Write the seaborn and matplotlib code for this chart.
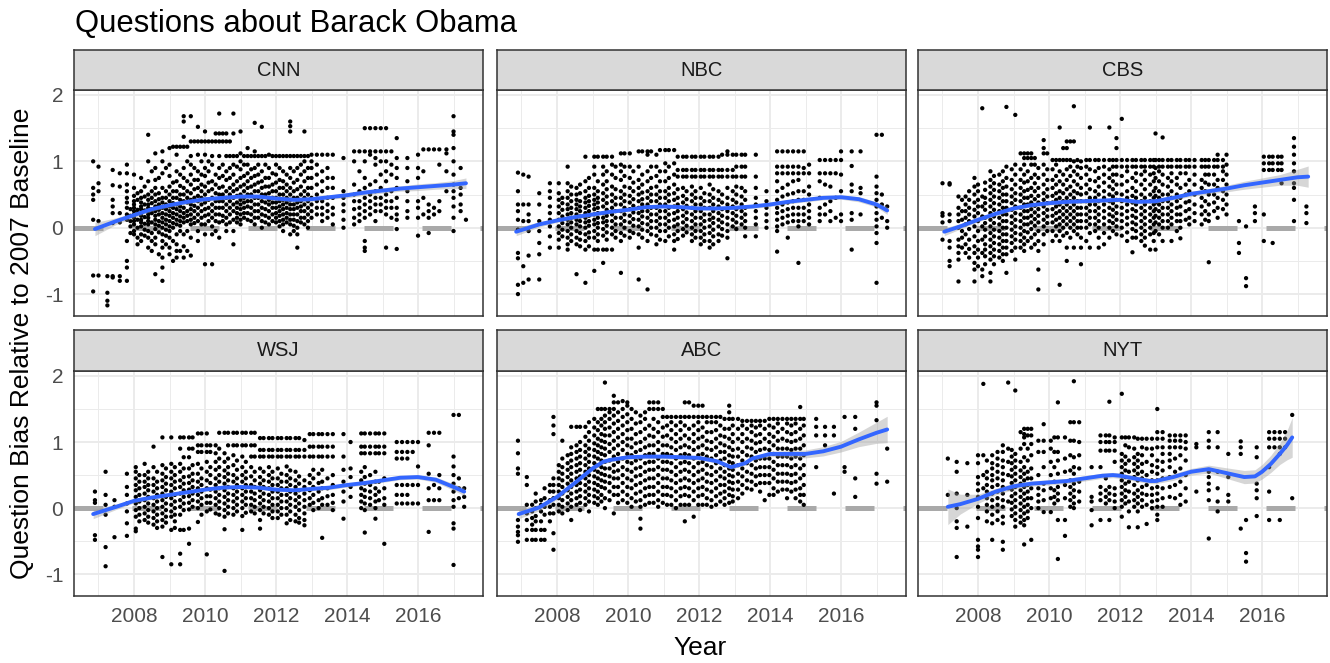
import matplotlib
matplotlib.use("Agg")
import matplotlib.pyplot as plt
import pandas as pd
import seaborn as sns

# panel order as drawn: top row then bottom row
OUTLETS = ["CNN", "NBC", "CBS", "WSJ", "ABC", "NYT"]

# scatter points: (year, [bias values])
CNN_COLUMNS = [
    (2006.85, [1.0, 0.6, 0.5, 0.42, 0.12, -0.72, -0.96]),
    (2007.0, [0.92, 0.67, 0.55, 0.1, -0.72]),
    (2007.25, [-1.1, -1.17, -0.98, -0.73]),
    (2007.4, [0.87, 0.64, 0.42, 0.32, 0.22, 0.07, -0.73, -0.75]),
    (2007.6, [0.82, 0.62, 0.22, 0.08, -0.73, -0.8]),
    (2007.8, [0.95, 0.82, 0.65, 0.55, 0.45, 0.38, 0.3, 0.2, 0.12, -0.2, -0.5, -0.6, -0.8]),
    (2008.0, [0.8, 0.6, 0.48, 0.4, 0.35, 0.3, 0.25, 0.2, 0.15, 0.1, 0.05, -0.05, -0.1]),
    (2008.2, [0.75, 0.55, 0.45, 0.38, 0.32, 0.28, 0.22, 0.18, 0.12, 0.08, 0.02, -0.1, -0.2]),
    (2008.4, [1.4, 1.0, 0.7, 0.5, 0.42, 0.35, 0.3, 0.25, 0.2, 0.15, 0.1, 0.05, -0.05, -0.15, -0.3]),
    (2008.6, [1.12, 0.9, 0.72, 0.6, 0.5, 0.4, 0.32, 0.25, 0.18, 0.12, 0.05, -0.02, -0.15, -0.25, -0.7]),
    (2008.8, [1.15, 1.0, 0.82, 0.6, 0.45, 0.38, 0.3, 0.22, 0.15, 0.08, 0.0, -0.1, -0.2, -0.3, -0.45, -0.6, -0.8]),
    (2009.0, [1.2, 0.95, 0.78, 0.62, 0.5, 0.4, 0.32, 0.25, 0.18, 0.1, 0.02, -0.05, -0.15, -0.3, -0.4]),
    (2009.2, [1.22, 1.1, 0.85, 0.7, 0.55, 0.45, 0.35, 0.28, 0.2, 0.12, 0.05, -0.1, -0.25, -0.35, -0.45]),
    (2009.4, [1.68, 1.6, 1.37, 1.22, 0.9, 0.75, 0.6, 0.5, 0.4, 0.3, 0.22, 0.15, 0.08, -0.1, -0.28, -0.45]),
    (2009.6, [1.68, 1.3, 1.08, 0.95, 0.8, 0.65, 0.52, 0.42, 0.35, 0.28, 0.2, 0.12, 0.05, -0.15, -0.42]),
    (2009.8, [1.52, 1.3, 1.1, 0.85, 0.72, 0.6, 0.48, 0.4, 0.3, 0.2, 0.1, -0.05, -0.2]),
    (2010.0, [1.45, 1.3, 1.1, 0.9, 0.78, 0.62, 0.5, 0.38, 0.28, 0.18, 0.05, -0.1, -0.55]),
    (2010.2, [1.3, 1.08, 0.95, 0.7, 0.58, 0.45, 0.35, 0.25, 0.15, 0.02, -0.1, -0.55]),
    (2010.4, [1.72, 1.42, 1.3, 1.08, 0.9, 0.75, 0.6, 0.5, 0.4, 0.3, 0.2, 0.08, -0.15]),
    (2010.6, [1.42, 1.3, 1.08, 0.85, 0.72, 0.55, 0.45, 0.35, 0.25, 0.15, 0.05, -0.05]),
    (2010.8, [1.72, 1.42, 1.08, 0.95, 0.8, 0.65, 0.55, 0.45, 0.35, 0.25, 0.12, -0.05, -0.25]),
    (2011.0, [1.45, 1.12, 1.0, 0.88, 0.75, 0.62, 0.5, 0.42, 0.35, 0.28, 0.2, 0.12, 0.05]),
    (2011.2, [1.2, 1.08, 0.95, 0.82, 0.7, 0.6, 0.5, 0.4, 0.32, 0.22, 0.12]),
    (2011.4, [1.58, 1.15, 1.08, 0.9, 0.78, 0.65, 0.55, 0.45, 0.35, 0.25, 0.15, 0.05]),
    (2011.6, [1.52, 1.08, 0.85, 0.7, 0.6, 0.5, 0.4, 0.3, 0.2, 0.1, 0.0]),
    (2011.8, [1.1, 0.9, 0.75, 0.62, 0.52, 0.42, 0.35, 0.25, 0.15, 0.05]),
    (2012.0, [1.08, 0.95, 0.8, 0.68, 0.55, 0.45, 0.38, 0.3, 0.22, 0.15, 0.08]),
    (2012.2, [1.08, 0.85, 0.7, 0.6, 0.5, 0.42, 0.35, 0.28, 0.2, 0.12, 0.05, -0.05]),
    (2012.4, [1.6, 1.53, 1.45, 1.08, 0.9, 0.75, 0.6, 0.5, 0.42, 0.35, 0.28, 0.2, 0.12, 0.05, -0.1]),
    (2012.6, [1.08, 0.9, 0.72, 0.58, 0.45, 0.38, 0.3, 0.2, 0.1, 0.0, -0.1, -0.3]),
    (2012.8, [1.45, 1.08, 1.0, 0.85, 0.7, 0.55, 0.45, 0.35, 0.25, 0.15, 0.05]),
    (2013.0, [1.1, 1.0, 0.9, 0.75, 0.6, 0.45, 0.35, 0.25, 0.15]),
    (2013.3, [1.1, 0.85, 0.7, 0.55, 0.4, 0.3, 0.2, 0.1]),
    (2013.6, [1.1, 0.75, 0.6, 0.45, 0.3, 0.2, 0.05]),
    (2013.9, [1.05, 0.55, 0.45, 0.35, 0.25, 0.12, 0.0]),
    (2014.2, [1.15, 1.0, 0.65, 0.5, 0.4, 0.28, 0.15, 0.05]),
    (2014.5, [1.5, 1.15, 1.0, 0.75, 0.6, 0.45, 0.35, 0.25, 0.15, -0.2, -0.3, -0.35]),
    (2014.8, [1.5, 1.15, 1.05, 0.95, 0.7, 0.55, 0.45, 0.35, 0.25, 0.1]),
    (2015.1, [1.5, 1.15, 1.0, 0.85, 0.7, 0.5, 0.4, 0.3, 0.2, -0.3]),
    (2015.4, [1.35, 1.05, 0.9, 0.75, 0.6, 0.45, 0.3, 0.2, 0.12, -0.02, -0.32]),
    (2015.7, [1.05, 0.9, 0.7, 0.55, 0.4, 0.25, 0.15]),
    (2016.0, [1.1, 0.9, 0.75, 0.4, 0.3, 0.15, -0.12]),
    (2016.3, [1.18, 0.35, 0.25, 0.15, -0.08]),
    (2016.6, [1.18, 0.95, 0.4, 0.25]),
    (2016.8, [1.18, 1.12, 0.85, 0.55]),
    (2017.0, [1.68, 1.45, 1.4, 1.2, 1.0, 0.8, 0.65, 0.55, 0.45, 0.32, 0.15, -0.05]),
    (2017.2, [0.9, 0.6, 0.5, 0.35, 0.25]),
    (2017.35, [0.12]),
]
# second pass over the dense parts of each panel
CNN_COLUMNS_B = [
    (2007.9, [0.28, 0.18, 0.1, 0.02, -0.08]),
    (2008.1, [0.52, 0.42, 0.27, 0.22, 0.12, 0.0, -0.15, -0.25]),
    (2008.3, [0.62, 0.47, 0.35, 0.26, 0.16, 0.06, -0.03, -0.12]),
    (2008.5, [0.85, 0.55, 0.45, 0.37, 0.28, 0.22, 0.08, -0.08, -0.2, -0.35]),
    (2008.7, [0.75, 0.52, 0.43, 0.35, 0.27, 0.2, 0.1, 0.03, -0.07, -0.4]),
    (2008.9, [0.9, 0.55, 0.45, 0.35, 0.28, 0.2, 0.12, 0.05, -0.03, -0.12, -0.25]),
    (2009.1, [1.22, 0.68, 0.55, 0.45, 0.37, 0.3, 0.22, 0.15, 0.07, 0.0, -0.2, -0.5]),
    (2009.3, [1.22, 0.8, 0.63, 0.5, 0.42, 0.32, 0.25, 0.17, 0.1, 0.03, -0.05, -0.35]),
    (2009.5, [1.22, 1.0, 0.7, 0.55, 0.45, 0.38, 0.25, 0.18, 0.1, -0.05, -0.35]),
    (2009.7, [1.3, 0.9, 0.72, 0.58, 0.45, 0.33, 0.25, 0.15, 0.07]),
    (2009.9, [1.3, 1.0, 0.8, 0.65, 0.55, 0.45, 0.35, 0.25, 0.15, 0.05]),
    (2010.1, [1.3, 1.0, 0.85, 0.68, 0.55, 0.42, 0.3, 0.2, 0.1]),
    (2010.3, [1.3, 1.42, 0.8, 0.65, 0.52, 0.4, 0.3, 0.2, 0.1, -0.05]),
    (2010.5, [1.3, 1.42, 0.95, 0.78, 0.62, 0.5, 0.4, 0.3, 0.18, 0.1]),
    (2010.7, [1.3, 1.08, 0.9, 0.75, 0.6, 0.5, 0.4, 0.3, 0.2, 0.08]),
    (2010.9, [1.08, 0.92, 0.7, 0.58, 0.48, 0.38, 0.3, 0.22, 0.15, 0.08]),
    (2011.1, [1.08, 0.95, 0.78, 0.65, 0.55, 0.45, 0.38, 0.3, 0.22, 0.15]),
    (2011.3, [1.08, 0.88, 0.75, 0.62, 0.5, 0.4, 0.3, 0.2, 0.1]),
    (2011.5, [1.08, 0.95, 0.8, 0.68, 0.55, 0.45, 0.35, 0.25, 0.15]),
    (2011.7, [1.08, 0.95, 0.75, 0.62, 0.5, 0.38, 0.28, 0.18, 0.08]),
    (2011.9, [1.08, 0.82, 0.65, 0.55, 0.45, 0.38, 0.3, 0.2, 0.1]),
    (2012.1, [1.08, 0.9, 0.72, 0.6, 0.5, 0.4, 0.32, 0.25, 0.18, 0.1, 0.02]),
    (2012.3, [1.08, 0.8, 0.65, 0.55, 0.45, 0.38, 0.3, 0.22, 0.15, 0.08]),
    (2012.5, [1.08, 0.85, 0.68, 0.55, 0.45, 0.35, 0.28, 0.2, 0.12, 0.03, -0.05]),
    (2012.7, [1.08, 0.95, 0.8, 0.62, 0.5, 0.4, 0.32, 0.25, 0.15, 0.08]),
    (2012.9, [1.08, 0.9, 0.75, 0.6, 0.5, 0.4, 0.3, 0.2, 0.1, 0.0]),
    (2013.15, [1.1, 0.95, 0.8, 0.65, 0.5, 0.4, 0.3, 0.2]),
    (2013.45, [1.1, 0.9, 0.75, 0.6, 0.45, 0.35, 0.25, 0.15]),
    (2014.35, [1.15, 0.85, 0.55, 0.4, 0.3, 0.2, 0.1]),
    (2014.65, [1.5, 1.15, 1.1, 0.65, 0.5, 0.4, 0.3, 0.2]),
    (2014.95, [1.5, 1.15, 1.0, 0.8, 0.6, 0.45, 0.35, 0.25]),
    (2015.25, [1.15, 0.95, 0.8, 0.55, 0.4, 0.3, 0.15]),
    (2016.15, [1.18, 0.85, 0.45, 0.2]),
    (2016.45, [1.18, 0.3, 0.2]),
]

NBC_COLUMNS = [
    (2006.9, [0.83, 0.55, 0.35, 0.25, 0.12, -0.03, -0.38, -0.46, -0.86, -1.0]),
    (2007.05, [0.8, 0.35, 0.1, -0.58, -0.83]),
    (2007.2, [0.77, 0.35, 0.2, 0.1, -0.05, -0.42, -0.78]),
    (2007.5, [0.52, 0.35, 0.1, -0.05, -0.23, -0.4, -0.78]),
    (2007.8, [0.67, 0.55, 0.45, 0.32, 0.22, 0.12, 0.02, -0.13, -0.3]),
    (2008.05, [0.67, 0.52, 0.42, 0.32, 0.22, 0.12, 0.02, -0.08, -0.18, -0.3]),
    (2008.3, [0.92, 0.67, 0.55, 0.45, 0.35, 0.28, 0.2, 0.12, 0.05, -0.05, -0.15, -0.25, -0.33]),
    (2008.55, [0.6, 0.5, 0.42, 0.35, 0.28, 0.2, 0.12, 0.05, -0.05, -0.15, -0.25, -0.7]),
    (2008.8, [1.07, 0.7, 0.55, 0.45, 0.38, 0.3, 0.22, 0.15, 0.08, 0.0, -0.1, -0.2, -0.33, -0.83]),
    (2009.05, [1.07, 0.92, 0.8, 0.6, 0.5, 0.42, 0.35, 0.28, 0.2, 0.12, 0.05, -0.05, -0.15, -0.33, -0.65]),
    (2009.3, [1.07, 0.92, 0.8, 0.65, 0.52, 0.42, 0.32, 0.22, 0.15, 0.08, -0.02, -0.12, -0.33, -0.53]),
    (2009.55, [1.07, 0.95, 0.8, 0.62, 0.5, 0.4, 0.3, 0.2, 0.1, 0.0, -0.1, -0.33]),
    (2009.8, [1.12, 0.95, 0.85, 0.72, 0.55, 0.45, 0.35, 0.25, 0.15, 0.05, -0.08, -0.2, -0.68]),
    (2010.05, [1.12, 0.92, 0.75, 0.6, 0.48, 0.38, 0.28, 0.18, 0.08, -0.05, -0.15]),
    (2010.3, [1.15, 0.92, 0.72, 0.6, 0.5, 0.4, 0.3, 0.22, 0.12, 0.02, -0.1, -0.3, -0.78]),
    (2010.55, [1.15, 1.1, 0.85, 0.7, 0.55, 0.45, 0.35, 0.25, 0.15, 0.05, -0.05, -0.2, -0.93]),
    (2010.8, [1.1, 0.92, 0.78, 0.62, 0.5, 0.4, 0.3, 0.2, 0.1, 0.0, -0.12, -0.25]),
    (2011.05, [1.17, 0.97, 0.85, 0.7, 0.55, 0.45, 0.35, 0.25, 0.15, 0.05, -0.05, -0.2]),
    (2011.3, [1.17, 0.97, 0.8, 0.65, 0.52, 0.42, 0.32, 0.22, 0.12, 0.02, -0.1, -0.2, -0.33]),
    (2011.55, [1.07, 0.87, 0.77, 0.6, 0.48, 0.38, 0.28, 0.18, 0.08, -0.02, -0.12]),
    (2011.8, [1.07, 0.87, 0.77, 0.62, 0.5, 0.4, 0.3, 0.2, 0.1, 0.0, -0.1, -0.2]),
    (2012.05, [1.07, 0.87, 0.77, 0.6, 0.45, 0.35, 0.25, 0.15, 0.05, -0.05, -0.15, -0.25]),
    (2012.3, [1.07, 0.87, 0.77, 0.65, 0.5, 0.4, 0.3, 0.2, 0.12, 0.02, -0.08, -0.2, -0.3]),
    (2012.55, [1.07, 0.87, 0.77, 0.55, 0.42, 0.32, 0.22, 0.12, 0.02, -0.1, -0.2]),
    (2012.8, [1.15, 1.1, 0.87, 0.77, 0.6, 0.45, 0.35, 0.25, 0.15, 0.05, -0.05, -0.15, -0.46]),
    (2013.05, [1.1, 0.92, 0.77, 0.62, 0.5, 0.38, 0.28, 0.18, 0.08, -0.02]),
    (2013.3, [1.1, 0.92, 0.77, 0.55, 0.42, 0.3, 0.2, 0.1, 0.0, -0.13]),
    (2013.6, [1.1, 0.77, 0.6, 0.45, 0.35, 0.25, 0.15, 0.05, -0.13]),
    (2013.9, [0.55, 0.4, 0.3, 0.2, 0.1, 0.0]),
    (2014.2, [1.15, 0.92, 0.82, 0.7, 0.55, 0.42, 0.3, 0.22, 0.12, 0.02, -0.05, -0.36]),
    (2014.5, [1.15, 0.92, 0.82, 0.65, 0.5, 0.38, 0.28, 0.18, 0.08, -0.15]),
    (2014.8, [1.15, 0.92, 0.82, 0.72, 0.55, 0.42, 0.3, 0.2, 0.1, 0.02, -0.53]),
    (2015.1, [0.95, 0.82, 0.62, 0.5, 0.35, 0.25, 0.15, 0.05]),
    (2015.4, [1.02, 0.82, 0.7, 0.45, 0.3, 0.2, 0.1]),
    (2015.7, [1.02, 0.82, 0.62, 0.4, 0.25, 0.1]),
    (2016.0, [1.15, 1.02, 0.8, 0.55, 0.2, 0.1]),
    (2016.3, [1.15, 0.93, 0.65, 0.55, 0.22, 0.12, -0.33]),
    (2016.55, [1.15, 0.6, 0.52, 0.2]),
    (2017.0, [1.4, 0.77, 0.62, 0.52, 0.42, 0.32, 0.22, 0.12, 0.02, -0.08, -0.23, -0.83]),
    (2017.15, [1.4, 0.5, 0.35, 0.15]),
    (2017.3, [0.32, 0.1, 0.0]),
]
NBC_COLUMNS_B = [
    (2008.15, [0.45, 0.37, 0.27, 0.17, 0.07, -0.03, -0.13]),
    (2008.4, [0.62, 0.5, 0.4, 0.3, 0.22, 0.15, 0.08, 0.0, -0.1, -0.2]),
    (2008.65, [0.65, 0.52, 0.4, 0.32, 0.25, 0.17, 0.1, 0.02, -0.08, -0.18, -0.28]),
    (2008.9, [0.75, 0.6, 0.48, 0.4, 0.33, 0.25, 0.18, 0.1, 0.03, -0.07, -0.15, -0.28]),
    (2009.15, [1.07, 0.7, 0.55, 0.45, 0.38, 0.3, 0.22, 0.15, 0.07, 0.0, -0.1, -0.2, -0.33]),
    (2009.4, [1.07, 0.85, 0.7, 0.58, 0.47, 0.37, 0.27, 0.18, 0.1, 0.03, -0.07, -0.18, -0.33]),
    (2009.65, [0.92, 0.75, 0.58, 0.45, 0.35, 0.25, 0.15, 0.05, -0.05, -0.15]),
    (2009.9, [1.12, 0.92, 0.78, 0.62, 0.5, 0.4, 0.3, 0.2, 0.1, 0.0, -0.12]),
    (2010.15, [0.85, 0.68, 0.55, 0.43, 0.33, 0.23, 0.13, 0.03, -0.08]),
    (2010.4, [1.15, 0.8, 0.65, 0.53, 0.43, 0.35, 0.25, 0.17, 0.07, -0.03, -0.15]),
    (2010.65, [1.15, 0.92, 0.75, 0.6, 0.5, 0.4, 0.3, 0.2, 0.1, 0.0, -0.1]),
    (2010.9, [1.17, 0.85, 0.7, 0.55, 0.45, 0.35, 0.25, 0.15, 0.05, -0.05, -0.18]),
    (2011.15, [1.17, 0.92, 0.75, 0.6, 0.5, 0.4, 0.3, 0.2, 0.1, 0.0, -0.13]),
    (2011.4, [1.07, 0.87, 0.77, 0.58, 0.45, 0.35, 0.25, 0.15, 0.05, -0.05, -0.17]),
    (2011.65, [1.07, 0.87, 0.77, 0.55, 0.43, 0.33, 0.23, 0.13, 0.03, -0.07]),
    (2011.9, [1.07, 0.87, 0.77, 0.55, 0.45, 0.35, 0.25, 0.15, 0.05, -0.05, -0.15]),
    (2012.15, [1.07, 0.87, 0.77, 0.52, 0.4, 0.3, 0.2, 0.1, 0.0, -0.1, -0.2]),
    (2012.4, [1.07, 0.87, 0.77, 0.58, 0.45, 0.35, 0.25, 0.15, 0.07, -0.03, -0.13, -0.25]),
    (2012.65, [1.1, 0.87, 0.77, 0.5, 0.38, 0.28, 0.18, 0.08, -0.02, -0.12]),
    (2012.95, [1.1, 0.87, 0.77, 0.55, 0.42, 0.32, 0.22, 0.12, 0.02]),
    (2013.2, [1.1, 0.92, 0.77, 0.6, 0.47, 0.35, 0.25, 0.15, 0.05]),
    (2014.35, [1.15, 0.92, 0.82, 0.6, 0.47, 0.35, 0.25, 0.15, 0.05]),
    (2014.65, [1.15, 0.92, 0.82, 0.7, 0.52, 0.4, 0.3, 0.2, 0.1]),
    (2014.95, [1.15, 0.9, 0.82, 0.55, 0.42, 0.3, 0.2, 0.1]),
    (2015.55, [1.02, 0.82, 0.65, 0.35, 0.2]),
    (2015.85, [1.02, 0.82, 0.45, 0.15]),
]

CBS_COLUMNS = [
    (2007.0, [0.67, 0.22, 0.18, 0.08, -0.18]),
    (2007.2, [0.67, 0.65, 0.2, 0.1, -0.2, -0.3, -0.5, -0.58]),
    (2007.45, [0.47, 0.3, 0.2, 0.1, 0.0, -0.18, -0.28, -0.38, -0.48, -0.81]),
    (2007.65, [0.47, 0.35, 0.25, 0.15, 0.05, -0.1, -0.25, -0.38]),
    (2007.9, [0.75, 0.62, 0.5, 0.38, 0.27, 0.17, 0.02, -0.13, -0.28, -0.38, -0.53, -0.63, -0.81]),
    (2008.12, [1.8, 0.47, 0.32, 0.17, 0.02, -0.18, -0.38, -0.63, -0.73]),
    (2008.35, [0.85, 0.72, 0.62, 0.52, 0.42, 0.32, 0.22, 0.12, 0.02, -0.08, -0.18, -0.28, -0.38, -0.48, -0.68, -0.81]),
    (2008.6, [0.8, 0.65, 0.55, 0.45, 0.35, 0.25, 0.15, 0.05, -0.05, -0.15, -0.25, -0.35, -0.45]),
    (2008.8, [1.82, 0.92, 0.75, 0.62, 0.5, 0.4, 0.3, 0.2, 0.1, 0.0, -0.1, -0.2, -0.3, -0.4, -0.68]),
    (2009.05, [1.7, 0.95, 0.8, 0.65, 0.52, 0.42, 0.32, 0.22, 0.12, 0.02, -0.08, -0.18, -0.3, -0.48]),
    (2009.3, [1.12, 1.05, 0.95, 0.8, 0.68, 0.55, 0.45, 0.35, 0.25, 0.15, 0.05, -0.05, -0.15, -0.25, -0.35]),
    (2009.5, [1.12, 1.05, 0.95, 0.75, 0.6, 0.48, 0.38, 0.28, 0.18, 0.08, -0.02, -0.15, -0.3]),
    (2009.7, [0.9, 0.75, 0.6, 0.48, 0.38, 0.28, 0.18, 0.08, -0.05, -0.2, -0.35, -0.63, -0.93]),
    (2009.85, [1.32, 1.2, 1.12, 0.95, 0.8, 0.65, 0.52, 0.42, 0.32, 0.22, 0.12, 0.02, -0.1, -0.25]),
    (2010.1, [1.02, 0.88, 0.72, 0.6, 0.48, 0.38, 0.28, 0.18, 0.08, -0.05, -0.2]),
    (2010.3, [1.51, 1.02, 0.85, 0.7, 0.55, 0.45, 0.35, 0.25, 0.15, 0.05, -0.05, -0.2, -0.86]),
    (2010.5, [1.3, 1.2, 1.02, 0.88, 0.72, 0.58, 0.45, 0.35, 0.25, 0.15, 0.05, -0.08, -0.3, -0.5]),
    (2010.7, [1.83, 1.3, 1.0, 0.85, 0.7, 0.55, 0.45, 0.35, 0.25, 0.15, 0.05, -0.05, -0.3]),
    (2010.9, [1.0, 0.9, 0.75, 0.6, 0.5, 0.4, 0.3, 0.2, 0.1, 0.0, -0.15, -0.3, -0.55]),
    (2011.15, [1.51, 1.02, 0.88, 0.72, 0.58, 0.45, 0.35, 0.25, 0.15, 0.05, -0.08, -0.3]),
    (2011.4, [1.02, 0.9, 0.75, 0.62, 0.5, 0.4, 0.3, 0.2, 0.1, 0.0, -0.15, -0.3]),
    (2011.7, [1.51, 1.02, 0.88, 0.75, 0.62, 0.5, 0.4, 0.3, 0.2, 0.1, 0.0, -0.15]),
    (2011.9, [1.35, 1.2, 1.02, 0.92, 0.8, 0.65, 0.52, 0.42, 0.32, 0.22, 0.12, 0.02, -0.1]),
    (2012.05, [1.64, 1.02, 0.92, 0.78, 0.65, 0.5, 0.4, 0.3, 0.2, 0.1, 0.0, -0.12]),
    (2012.35, [1.02, 0.92, 0.75, 0.6, 0.48, 0.38, 0.28, 0.18, 0.08, -0.02, -0.15, -0.37]),
    (2012.6, [1.02, 0.92, 0.8, 0.65, 0.5, 0.4, 0.3, 0.2, 0.1, 0.0, -0.1, -0.2]),
    (2012.85, [1.02, 0.92, 0.8, 0.65, 0.5, 0.4, 0.3, 0.2, 0.1, 0.0, -0.1, -0.33]),
    (2013.0, [1.42, 1.02, 0.9, 0.75, 0.6, 0.48, 0.38, 0.28, 0.18, 0.08, -0.05, -0.33]),
    (2013.2, [1.36, 1.02, 0.92, 0.8, 0.65, 0.5, 0.4, 0.3, 0.2, 0.1, 0.0, -0.2]),
    (2013.45, [1.02, 0.92, 0.82, 0.7, 0.55, 0.45, 0.35, 0.25, 0.15, 0.05, -0.2]),
    (2013.7, [1.02, 0.92, 0.82, 0.6, 0.45, 0.32, 0.2, 0.1, 0.0, -0.16]),
    (2013.95, [1.02, 0.92, 0.72, 0.55, 0.4, 0.28, 0.15, 0.05]),
    (2014.3, [1.02, 0.92, 0.72, 0.6, 0.45, 0.32, 0.2, 0.05]),
    (2014.5, [1.02, 0.92, 0.8, 0.65, 0.5, 0.35, 0.2, 0.1, -0.52]),
    (2014.75, [1.1, 1.02, 0.92, 0.72, 0.6, 0.45, 0.3, 0.15]),
    (2015.0, [1.1, 0.95, 0.8, 0.65, 0.5, 0.35, 0.2]),
    (2015.35, [0.1, -0.23, -0.38]),
    (2015.55, [0.02, -0.76, -0.88]),
    (2015.8, [0.32, 0.22, 0.1]),
    (2016.05, [1.07, 0.97, 0.87, 0.2, -0.2]),
    (2016.3, [1.07, 0.97, 0.87, -0.23]),
    (2016.55, [1.07, 0.97, 0.87, 0.67]),
    (2016.9, [1.35, 1.22, 1.1, 0.97, 0.85, 0.67, 0.6, 0.42, 0.1]),
    (2017.25, [0.32, 0.22, 0.07]),
]
CBS_COLUMNS_B = [
    (2007.55, [0.42, 0.25, 0.12, -0.05, -0.15, -0.3]),
    (2007.75, [0.55, 0.42, 0.3, 0.2, 0.1, -0.02, -0.18, -0.32, -0.45]),
    (2008.0, [0.65, 0.55, 0.42, 0.32, 0.22, 0.1, -0.05, -0.2, -0.33, -0.45, -0.58]),
    (2008.2, [0.68, 0.57, 0.45, 0.37, 0.27, 0.15, 0.07, -0.03, -0.13, -0.25, -0.33, -0.43, -0.55]),
    (2008.45, [0.78, 0.67, 0.57, 0.47, 0.37, 0.27, 0.17, 0.07, -0.03, -0.13, -0.23, -0.33, -0.43, -0.55]),
    (2008.7, [0.85, 0.7, 0.6, 0.5, 0.4, 0.3, 0.2, 0.1, 0.0, -0.1, -0.2, -0.3, -0.4, -0.5]),
    (2008.95, [0.88, 0.72, 0.58, 0.47, 0.37, 0.27, 0.17, 0.07, -0.03, -0.13, -0.23, -0.35]),
    (2009.2, [1.12, 0.88, 0.72, 0.6, 0.5, 0.4, 0.3, 0.2, 0.1, 0.0, -0.1, -0.2, -0.3]),
    (2009.4, [1.12, 1.05, 0.85, 0.7, 0.57, 0.45, 0.35, 0.25, 0.15, 0.05, -0.07, -0.2]),
    (2009.6, [1.05, 0.95, 0.8, 0.67, 0.55, 0.43, 0.33, 0.23, 0.13, 0.03, -0.1, -0.25]),
    (2009.95, [1.12, 0.88, 0.72, 0.58, 0.47, 0.37, 0.27, 0.17, 0.07, -0.05]),
    (2010.2, [1.02, 0.95, 0.78, 0.65, 0.52, 0.42, 0.32, 0.22, 0.12, 0.02, -0.12]),
    (2010.4, [1.2, 1.02, 0.8, 0.65, 0.52, 0.4, 0.3, 0.2, 0.1, 0.0, -0.12]),
    (2010.6, [1.3, 1.02, 0.92, 0.78, 0.62, 0.5, 0.4, 0.3, 0.2, 0.1, 0.0, -0.15]),
    (2010.8, [1.02, 0.92, 0.8, 0.65, 0.52, 0.4, 0.3, 0.2, 0.1, 0.0, -0.1]),
    (2011.05, [1.02, 0.92, 0.8, 0.65, 0.52, 0.4, 0.3, 0.2, 0.1, 0.0, -0.2]),
    (2011.3, [1.02, 0.85, 0.7, 0.55, 0.45, 0.35, 0.25, 0.15, 0.05, -0.05]),
    (2011.55, [1.02, 0.92, 0.8, 0.68, 0.55, 0.45, 0.35, 0.25, 0.15, 0.05, -0.08, -0.25]),
    (2011.8, [1.02, 0.92, 0.8, 0.7, 0.58, 0.47, 0.37, 0.27, 0.17, 0.07, -0.05]),
    (2012.2, [1.02, 0.92, 0.85, 0.7, 0.55, 0.45, 0.35, 0.25, 0.15, 0.05, -0.07, -0.2]),
    (2012.45, [1.02, 0.92, 0.82, 0.7, 0.55, 0.45, 0.35, 0.25, 0.15, 0.05, -0.05, -0.15]),
    (2012.7, [1.02, 0.92, 0.85, 0.72, 0.58, 0.45, 0.35, 0.25, 0.15, 0.05, -0.05, -0.15, -0.27]),
    (2012.95, [1.02, 0.92, 0.82, 0.7, 0.55, 0.45, 0.35, 0.25, 0.15, 0.05, -0.08, -0.2]),
    (2013.1, [1.02, 0.92, 0.85, 0.7, 0.55, 0.45, 0.35, 0.25, 0.15, 0.05, -0.1]),
    (2013.35, [1.02, 0.92, 0.75, 0.62, 0.5, 0.4, 0.3, 0.2, 0.1, 0.0]),
    (2013.6, [1.02, 0.92, 0.75, 0.65, 0.5, 0.4, 0.3, 0.2, 0.1, -0.05]),
    (2013.85, [1.02, 0.92, 0.82, 0.65, 0.5, 0.38, 0.25, 0.12]),
    (2014.1, [1.02, 0.92, 0.8, 0.65, 0.5, 0.35, 0.22, 0.1]),
    (2014.4, [1.02, 0.92, 0.8, 0.68, 0.55, 0.4, 0.25, 0.12]),
    (2014.65, [1.02, 0.92, 0.8, 0.65, 0.5, 0.38, 0.25]),
    (2014.9, [1.02, 0.92, 0.85, 0.72, 0.55, 0.42, 0.28]),
    (2016.2, [1.07, 0.97, 0.87]),
    (2016.45, [1.07, 0.97, 0.87]),
]

WSJ_COLUMNS = [
    (2006.9, [0.25, 0.12, 0.08, -0.41, -0.48]),
    (2007.2, [0.55, 0.2, 0.05, -0.1, -0.59, -0.88]),
    (2007.45, [0.12, 0.02, -0.44]),
    (2007.8, [0.52, 0.32, 0.2, 0.07, -0.05, -0.23, -0.42]),
    (2008.05, [0.62, 0.55, 0.45, 0.35, 0.27, 0.17, 0.07, -0.03, -0.13, -0.31, -0.35]),
    (2008.3, [0.67, 0.5, 0.4, 0.32, 0.22, 0.12, 0.02, -0.08, -0.18]),
    (2008.55, [0.93, 0.62, 0.45, 0.35, 0.25, 0.15, 0.05, -0.05, -0.15, -0.25]),
    (2008.8, [1.07, 0.65, 0.52, 0.42, 0.32, 0.22, 0.12, 0.02, -0.08, -0.18, -0.28, -0.74]),
    (2009.05, [1.07, 0.67, 0.55, 0.45, 0.35, 0.25, 0.15, 0.05, -0.05, -0.13, -0.33, -0.85]),
    (2009.3, [1.07, 0.9, 0.67, 0.55, 0.42, 0.32, 0.22, 0.12, 0.02, -0.1, -0.33, -0.69, -0.85]),
    (2009.55, [1.07, 0.9, 0.77, 0.6, 0.48, 0.38, 0.28, 0.18, 0.08, -0.02, -0.31, -0.54]),
    (2009.8, [1.13, 0.95, 0.85, 0.67, 0.52, 0.4, 0.3, 0.2, 0.1, 0.0, -0.21]),
    (2010.05, [1.13, 0.95, 0.85, 0.7, 0.55, 0.42, 0.3, 0.18, 0.08, -0.05, -0.7]),
    (2010.3, [0.95, 0.83, 0.7, 0.58, 0.45, 0.35, 0.25, 0.15, 0.05, -0.08]),
    (2010.55, [1.14, 0.83, 0.7, 0.57, 0.47, 0.37, 0.27, 0.17, 0.07, -0.03, -0.13, -0.32, -0.95]),
    (2010.8, [1.14, 0.95, 0.8, 0.65, 0.5, 0.4, 0.3, 0.2, 0.1, 0.0, -0.1]),
    (2011.05, [1.14, 0.95, 0.78, 0.62, 0.5, 0.4, 0.3, 0.2, 0.1, 0.0, -0.12, -0.33]),
    (2011.3, [1.14, 0.95, 0.78, 0.62, 0.48, 0.35, 0.25, 0.15, 0.05, -0.05]),
    (2011.55, [1.06, 0.88, 0.78, 0.6, 0.47, 0.37, 0.27, 0.17, 0.07, -0.03, -0.18, -0.31]),
    (2011.8, [1.06, 0.88, 0.78, 0.62, 0.5, 0.4, 0.3, 0.2, 0.1, 0.0, -0.1]),
    (2012.05, [1.06, 0.88, 0.78, 0.6, 0.45, 0.35, 0.25, 0.15, 0.05, -0.05, -0.15]),
    (2012.3, [1.06, 0.88, 0.78, 0.63, 0.5, 0.4, 0.3, 0.2, 0.1, 0.0, -0.1, -0.23]),
    (2012.55, [1.06, 0.88, 0.78, 0.55, 0.42, 0.32, 0.22, 0.12, 0.02, -0.1, -0.2]),
    (2012.8, [1.03, 0.88, 0.78, 0.42, 0.32, 0.22, 0.12, 0.02, -0.08, -0.18, -0.26]),
    (2013.05, [1.12, 0.93, 0.78, 0.58, 0.45, 0.32, 0.2, 0.08, -0.03]),
    (2013.3, [1.12, 0.93, 0.78, 0.58, 0.4, 0.3, 0.15, 0.05, -0.45]),
    (2013.6, [1.12, 0.93, 0.78, 0.5, 0.35, 0.2, 0.08, -0.03]),
    (2013.9, [1.12, 0.78, 0.58, 0.4, 0.25, 0.1, -0.16]),
    (2014.1, [1.0, 0.6, 0.47, 0.32, 0.17]),
    (2014.5, [1.13, 0.93, 0.83, 0.62, 0.47, 0.37, 0.27, 0.17, 0.07, -0.03, -0.37]),
    (2014.8, [1.13, 0.93, 0.83, 0.55, 0.4, 0.3, 0.2, 0.1, 0.0, -0.16]),
    (2015.05, [1.13, 0.93, 0.83, 0.45, 0.3, 0.15, 0.05, -0.54]),
    (2015.4, [1.0, 0.85, 0.75, 0.35, 0.2, 0.07]),
    (2015.7, [1.0, 0.85, 0.75, 0.35, 0.2, 0.07]),
    (2016.0, [1.0, 0.63, 0.35, 0.07]),
    (2016.3, [1.14, 0.95, 0.52, 0.3, 0.12, -0.36]),
    (2016.6, [1.14, 0.5, 0.3, 0.12]),
    (2017.0, [1.41, 0.78, 0.63, 0.5, 0.37, 0.25, 0.12, 0.02, -0.23, -0.31, -0.86]),
    (2017.15, [1.41, 0.45, 0.3, 0.15]),
    (2017.3, [0.3, 0.17, 0.02]),
]
WSJ_COLUMNS_B = [
    (2008.15, [0.5, 0.4, 0.3, 0.2, 0.1, 0.0, -0.1, -0.2]),
    (2008.4, [0.55, 0.45, 0.35, 0.27, 0.17, 0.07, -0.03, -0.13, -0.22]),
    (2008.65, [0.55, 0.4, 0.3, 0.2, 0.1, 0.0, -0.1, -0.2, -0.3]),
    (2008.9, [0.6, 0.47, 0.37, 0.27, 0.17, 0.07, -0.03, -0.13, -0.22]),
    (2009.15, [0.62, 0.5, 0.4, 0.3, 0.2, 0.1, 0.0, -0.1, -0.2, -0.3]),
    (2009.4, [1.07, 0.77, 0.6, 0.47, 0.37, 0.27, 0.17, 0.07, -0.03, -0.33]),
    (2009.65, [1.07, 0.9, 0.65, 0.52, 0.42, 0.32, 0.22, 0.12, 0.02]),
    (2009.9, [1.13, 0.95, 0.85, 0.6, 0.45, 0.35, 0.25, 0.15, 0.05, -0.1]),
    (2010.15, [0.95, 0.85, 0.62, 0.5, 0.38, 0.28, 0.18, 0.08, -0.02]),
    (2010.4, [1.14, 0.9, 0.75, 0.62, 0.5, 0.4, 0.3, 0.2, 0.1, 0.0, -0.1]),
    (2010.65, [1.14, 0.95, 0.75, 0.62, 0.52, 0.42, 0.32, 0.22, 0.12, 0.02, -0.08]),
    (2010.9, [1.14, 0.95, 0.72, 0.58, 0.45, 0.35, 0.25, 0.15, 0.05, -0.05]),
    (2011.15, [1.14, 0.95, 0.7, 0.55, 0.45, 0.35, 0.25, 0.15, 0.05, -0.07]),
    (2011.4, [1.14, 0.95, 0.78, 0.55, 0.42, 0.32, 0.22, 0.12, 0.02, -0.08]),
    (2011.65, [1.06, 0.88, 0.78, 0.55, 0.42, 0.32, 0.22, 0.12, 0.02, -0.08]),
    (2011.9, [1.06, 0.88, 0.78, 0.55, 0.45, 0.35, 0.25, 0.15, 0.05, -0.05, -0.15]),
    (2012.15, [1.06, 0.88, 0.78, 0.52, 0.4, 0.3, 0.2, 0.1, 0.0, -0.1]),
    (2012.4, [1.06, 0.88, 0.78, 0.57, 0.45, 0.35, 0.25, 0.15, 0.05, -0.05, -0.18]),
    (2012.65, [1.06, 0.88, 0.78, 0.48, 0.37, 0.27, 0.17, 0.07, -0.03, -0.15, -0.22]),
    (2012.95, [1.12, 0.93, 0.78, 0.5, 0.38, 0.27, 0.15, 0.05]),
    (2013.2, [1.12, 0.93, 0.78, 0.52, 0.38, 0.25, 0.12, 0.0]),
    (2013.45, [1.12, 0.93, 0.78, 0.45, 0.3, 0.18, 0.05]),
    (2014.4, [1.13, 0.93, 0.83, 0.55, 0.42, 0.3, 0.2, 0.1, 0.0]),
    (2014.65, [1.13, 0.93, 0.83, 0.5, 0.35, 0.25, 0.15, 0.05]),
    (2014.9, [1.13, 0.93, 0.83, 0.4, 0.25, 0.12]),
    (2015.55, [1.0, 0.85, 0.75, 0.35, 0.2, 0.07]),
    (2015.85, [1.0, 0.85, 0.35, 0.07]),
    (2016.45, [1.14, 0.35, 0.12]),
]

ABC_COLUMNS = [
    (2006.9, [1.02, 0.83, 0.6, 0.52, -0.18, -0.28, -0.36, -0.41, -0.51]),
    (2007.15, [0.47, 0.35, 0.05, -0.08, -0.18, -0.33, -0.48]),
    (2007.4, [0.22, 0.1, 0.0, -0.12, -0.2, -0.33, -0.48]),
    (2007.65, [0.3, 0.15, 0.02, -0.1, -0.33, -0.48]),
    (2007.9, [1.38, 1.25, 1.12, 0.45, 0.35, 0.25, 0.15, 0.05, -0.08, -0.38, -0.63]),
    (2008.15, [1.02, 0.75, 0.62, 0.52, 0.42, 0.32, 0.22, 0.12, 0.02, -0.08]),
    (2008.4, [1.23, 0.92, 0.82, 0.72, 0.62, 0.52, 0.42, 0.32, 0.22, 0.12, 0.02, -0.18]),
    (2008.65, [1.23, 1.0, 0.88, 0.78, 0.68, 0.58, 0.48, 0.38, 0.28, 0.18, 0.08, -0.03]),
    (2008.9, [1.3, 1.15, 1.02, 0.9, 0.8, 0.7, 0.6, 0.5, 0.4, 0.3, 0.2, 0.1, -0.05]),
    (2009.15, [1.5, 1.3, 1.18, 1.05, 0.95, 0.85, 0.75, 0.65, 0.55, 0.45, 0.35, 0.25, 0.15, 0.05]),
    (2009.35, [1.9, 1.5, 1.4, 1.3, 1.2, 1.1, 1.0, 0.9, 0.8, 0.7, 0.6, 0.5, 0.4, 0.3, 0.15, 0.0]),
    (2009.6, [1.7, 1.6, 1.5, 1.4, 1.28, 1.15, 1.02, 0.9, 0.78, 0.65, 0.55, 0.45, 0.32, 0.2, -0.08]),
    (2009.85, [1.62, 1.5, 1.38, 1.25, 1.12, 1.0, 0.88, 0.75, 0.62, 0.5, 0.38, 0.25, 0.12]),
    (2010.1, [1.5, 1.35, 1.2, 1.05, 0.92, 0.8, 0.68, 0.55, 0.42, 0.3, 0.15, 0.02]),
    (2010.35, [1.4, 1.3, 1.15, 1.0, 0.88, 0.75, 0.62, 0.5, 0.38, 0.25, 0.12, 0.02, -0.16, -0.31]),
    (2010.6, [1.6, 1.5, 1.25, 1.1, 0.95, 0.82, 0.7, 0.58, 0.45, 0.32, 0.2, 0.08]),
    (2010.85, [1.6, 1.5, 1.3, 1.15, 1.0, 0.88, 0.75, 0.62, 0.5, 0.38, 0.25, 0.12, 0.02]),
    (2011.1, [1.38, 1.25, 1.1, 0.95, 0.82, 0.7, 0.58, 0.45, 0.32, 0.2, 0.05]),
    (2011.35, [1.38, 1.25, 1.12, 1.0, 0.88, 0.75, 0.62, 0.5, 0.38, 0.25, 0.12, 0.0]),
    (2011.6, [1.6, 1.38, 1.25, 1.1, 0.95, 0.82, 0.7, 0.58, 0.45, 0.32, 0.2, 0.05, -0.2]),
    (2011.85, [1.55, 1.38, 1.25, 1.12, 1.0, 0.88, 0.75, 0.62, 0.5, 0.38, 0.25, 0.12, -0.13]),
    (2012.1, [1.55, 1.38, 1.22, 1.08, 0.95, 0.82, 0.7, 0.58, 0.45, 0.32, 0.2, 0.05]),
    (2012.35, [1.38, 1.3, 1.15, 1.0, 0.88, 0.75, 0.62, 0.5, 0.38, 0.25, 0.12, 0.02]),
    (2012.6, [1.38, 1.25, 1.1, 0.98, 0.85, 0.72, 0.6, 0.48, 0.35, 0.22, 0.1]),
    (2012.85, [1.55, 1.45, 1.35, 1.2, 1.05, 0.92, 0.8, 0.7, 0.6, 0.5, 0.4, 0.3, 0.2, 0.08]),
    (2013.1, [1.35, 1.2, 1.05, 0.9, 0.78, 0.65, 0.52, 0.4, 0.28, 0.15]),
    (2013.35, [1.32, 1.2, 1.05, 0.92, 0.8, 0.68, 0.55, 0.42, 0.3]),
    (2013.6, [1.32, 1.22, 1.1, 0.98, 0.85, 0.72, 0.6, 0.48, 0.35]),
    (2013.85, [1.32, 1.2, 1.05, 0.9, 0.75, 0.62, 0.5, 0.38, 0.12]),
    (2014.1, [1.35, 1.22, 1.08, 0.95, 0.82, 0.7, 0.58, 0.45, 0.3, 0.2]),
    (2014.35, [1.35, 1.2, 1.05, 0.9, 0.78, 0.65, 0.52, 0.4, 0.28]),
    (2014.6, [1.35, 1.25, 1.12, 1.0, 0.88, 0.75, 0.62, 0.5, 0.38, 0.25]),
    (2014.85, [1.53, 1.35, 1.2, 1.05, 0.9, 0.75, 0.6, 0.45, 0.3, 0.2, 0.1]),
    (2015.3, [1.35, 1.23, 1.1, 0.62]),
    (2015.55, [1.23, 1.1, 0.95]),
    (2015.8, [1.23, 1.1, 0.22]),
    (2016.1, [1.38, 0.62, 0.55]),
    (2016.4, [1.38, 1.2, 0.45, 0.17]),
    (2017.0, [1.6, 1.55, 1.33, 0.52, 0.37]),
    (2017.3, [0.9, 0.4]),
]
ABC_COLUMNS_B = [
    (2007.3, [0.05, -0.05, -0.15, -0.25, -0.33, -0.48]),
    (2007.55, [0.12, 0.05, -0.05, -0.2, -0.33, -0.48]),
    (2007.8, [0.35, 0.25, 0.12, 0.02, -0.08, -0.2]),
    (2008.05, [0.65, 0.55, 0.45, 0.35, 0.25, 0.15, 0.05, -0.05]),
    (2008.3, [0.8, 0.68, 0.58, 0.47, 0.37, 0.27, 0.17, 0.07, -0.03]),
    (2008.55, [1.23, 0.95, 0.85, 0.75, 0.65, 0.55, 0.45, 0.35, 0.25, 0.15, 0.05]),
    (2008.8, [1.23, 1.08, 0.95, 0.85, 0.75, 0.65, 0.55, 0.45, 0.35, 0.25, 0.15, 0.05]),
    (2009.05, [1.35, 1.22, 1.1, 0.98, 0.88, 0.78, 0.68, 0.58, 0.48, 0.38, 0.28, 0.18, 0.08]),
    (2009.25, [1.5, 1.35, 1.25, 1.12, 1.02, 0.92, 0.82, 0.72, 0.62, 0.52, 0.42, 0.32, 0.2, 0.1]),
    (2009.48, [1.5, 1.45, 1.35, 1.22, 1.1, 0.97, 0.85, 0.72, 0.6, 0.48, 0.38, 0.25, 0.12]),
    (2009.72, [1.6, 1.45, 1.32, 1.2, 1.07, 0.95, 0.82, 0.7, 0.57, 0.45, 0.32, 0.2, 0.08]),
    (2009.98, [1.6, 1.55, 1.42, 1.3, 1.18, 1.05, 0.95, 0.82, 0.7, 0.58, 0.45, 0.32, 0.2, 0.08]),
    (2010.22, [1.45, 1.28, 1.12, 0.98, 0.85, 0.72, 0.6, 0.48, 0.35, 0.22, 0.1]),
    (2010.48, [1.45, 1.35, 1.2, 1.05, 0.92, 0.8, 0.68, 0.55, 0.42, 0.3, 0.18, 0.05]),
    (2010.72, [1.6, 1.5, 1.35, 1.2, 1.08, 0.95, 0.82, 0.7, 0.58, 0.45, 0.32, 0.2, 0.08]),
    (2010.98, [1.5, 1.38, 1.22, 1.08, 0.95, 0.82, 0.7, 0.58, 0.45, 0.32, 0.2, 0.08]),
    (2011.22, [1.38, 1.3, 1.18, 1.05, 0.92, 0.8, 0.68, 0.55, 0.42, 0.3, 0.18, 0.05]),
    (2011.48, [1.38, 1.3, 1.18, 1.05, 0.92, 0.8, 0.68, 0.55, 0.42, 0.3, 0.18, 0.05]),
    (2011.72, [1.6, 1.38, 1.2, 1.05, 0.92, 0.8, 0.68, 0.55, 0.42, 0.3, 0.18, 0.05]),
    (2011.98, [1.55, 1.38, 1.3, 1.18, 1.05, 0.92, 0.8, 0.68, 0.55, 0.42, 0.3, 0.18, 0.05]),
    (2012.22, [1.38, 1.3, 1.15, 1.02, 0.9, 0.78, 0.65, 0.52, 0.4, 0.28, 0.15, 0.05]),
    (2012.48, [1.38, 1.3, 1.18, 1.05, 0.92, 0.8, 0.68, 0.55, 0.42, 0.3, 0.18, 0.05]),
    (2012.72, [1.35, 1.2, 1.08, 0.95, 0.85, 0.75, 0.65, 0.55, 0.45, 0.35, 0.25, 0.15, 0.05]),
    (2012.95, [1.35, 1.25, 1.12, 1.0, 0.88, 0.78, 0.68, 0.58, 0.48, 0.38, 0.28, 0.18, 0.1]),
    (2013.22, [1.32, 1.25, 1.12, 1.0, 0.85, 0.72, 0.6, 0.48, 0.35, 0.22]),
    (2013.48, [1.32, 1.25, 1.15, 1.02, 0.9, 0.78, 0.65, 0.52, 0.4, 0.28]),
    (2013.72, [1.32, 1.25, 1.12, 1.0, 0.88, 0.75, 0.62, 0.5, 0.38, 0.25]),
    (2013.98, [1.35, 1.25, 1.12, 1.0, 0.88, 0.75, 0.62, 0.5, 0.38, 0.2]),
    (2014.22, [1.35, 1.28, 1.15, 1.02, 0.9, 0.78, 0.65, 0.52, 0.4, 0.25]),
    (2014.48, [1.35, 1.28, 1.15, 1.02, 0.9, 0.78, 0.65, 0.52, 0.4, 0.28, 0.15]),
    (2014.72, [1.35, 1.28, 1.15, 1.02, 0.9, 0.78, 0.65, 0.52, 0.4, 0.28, 0.15]),
    (2014.95, [1.35, 1.25, 1.1, 0.95, 0.8, 0.65, 0.5, 0.35, 0.2, 0.05]),
]

NYT_COLUMNS = [
    (2007.15, [0.75, 0.2]),
    (2007.4, [0.7, 0.55, 0.22, 0.0, -0.2, -0.3, -0.74]),
    (2007.7, [0.68, 0.2, -0.28]),
    (2008.0, [0.8, 0.68, 0.47, 0.37, 0.27, 0.17, 0.02, -0.15, -0.48, -0.58, -0.63, -0.74]),
    (2008.15, [1.88, 0.8, 0.5, 0.3]),
    (2008.4, [0.8, 0.68, 0.6, 0.5, 0.42, 0.32, 0.22, 0.12, 0.02, -0.1, -0.23, -0.48]),
    (2008.7, [0.95, 0.85, 0.72, 0.62, 0.52, 0.42, 0.32, 0.22, 0.12, 0.02, -0.13, -0.23, -0.51, -0.63]),
    (2008.85, [1.9, 0.9, 0.7, 0.5, 0.3, 0.1]),
    (2009.05, [1.78, 0.82, 0.72, 0.62, 0.52, 0.42, 0.32, 0.22, 0.12, 0.02, -0.08, -0.18, -0.28]),
    (2009.3, [1.2, 1.12, 1.07, 0.97, 0.77, 0.62, 0.52, 0.42, 0.32, 0.22, 0.12, 0.02, -0.08, -0.18, -0.26, -0.55]),
    (2009.5, [1.2, 1.1, 0.97, 0.8, 0.6, 0.45, 0.3, 0.15, 0.0, -0.48]),
    (2009.85, [1.27, 1.02, 0.85, 0.62, 0.37, 0.27, 0.12, -0.06]),
    (2010.05, [1.02, 0.9, 0.7, 0.5, 0.3, 0.15, -0.06]),
    (2010.25, [1.6, 1.07, 0.85, 0.72, 0.52, 0.32, 0.22, 0.12, -0.18, -0.77]),
    (2010.45, [1.07, 0.75, 0.55, 0.35, 0.15, -0.18, -0.42]),
    (2010.7, [1.92, 1.3, 1.02, 0.77, 0.62, 0.52, 0.37, 0.27, 0.17, 0.07, 0.0]),
    (2010.85, [1.3, 1.0, 0.8, 0.6, 0.4, 0.25, 0.1]),
    (2011.2, [0.62, 0.17, 0.1, -0.03, -0.26]),
    (2011.45, [1.1, 1.0, 0.87, 0.62, 0.32, 0.22, 0.12, -0.18]),
    (2011.7, [1.61, 1.1, 1.0, 0.87, 0.32, 0.22, 0.12, -0.18]),
    (2012.05, [1.73, 1.07, 0.82, 0.72, 0.62, 0.52, 0.42, 0.32, 0.22, 0.12, 0.02, -0.13]),
    (2012.25, [1.07, 0.92, 0.72, 0.55, 0.4, 0.25, 0.1, -0.05, -0.29]),
    (2012.5, [1.05, 0.82, 0.72, 0.62, 0.52, 0.42, 0.27, 0.17, 0.07, -0.05, -0.29]),
    (2012.75, [1.05, 0.9, 0.7, 0.5, 0.35, 0.2, 0.05, -0.24]),
    (2013.05, [1.5, 1.15, 1.05, 0.92, 0.72, 0.62, 0.52, 0.42, 0.32, 0.22, 0.12, 0.02, -0.1, -0.18]),
    (2013.4, [1.1, 1.02, 0.92, 0.82, 0.72, 0.62, 0.47, 0.32, 0.17]),
    (2013.7, [1.1, 1.02, 0.92, 0.8, 0.6, 0.4, 0.2, 0.05]),
    (2014.15, [0.97, 0.92, 0.25]),
    (2014.5, [1.15, 1.02, 0.92, 0.55, 0.47, 0.37, 0.27, 0.12, -0.46]),
    (2014.75, [1.15, 0.92, 0.55, 0.3, 0.1, -0.05]),
    (2015.05, [0.82, 0.47, 0.2, 0.1]),
    (2015.4, [1.01, 0.92, 0.82, -0.31]),
    (2015.55, [-0.18, -0.68, -0.81]),
    (2015.85, [0.92, 0.77, 0.37, 0.27, 0.15, -0.12]),
    (2016.2, [1.15, 1.05, 0.92, 0.62, 0.25, -0.18]),
    (2016.5, [1.15, 1.05, 0.92, 0.82, -0.18]),
    (2016.85, [1.41, 0.15]),
]
NYT_COLUMNS_B = [
    (2008.25, [0.72, 0.55, 0.45, 0.35, 0.25, 0.15, 0.05, -0.05, -0.2]),
    (2008.55, [0.85, 0.75, 0.65, 0.55, 0.45, 0.35, 0.25, 0.15, 0.05, -0.05, -0.18]),
    (2008.95, [0.88, 0.78, 0.68, 0.58, 0.48, 0.38, 0.28, 0.18, 0.08, -0.02, -0.12]),
    (2009.2, [1.15, 0.9, 0.7, 0.57, 0.47, 0.37, 0.27, 0.17, 0.07, -0.03, -0.13, -0.22]),
    (2009.4, [1.2, 1.1, 0.9, 0.72, 0.55, 0.45, 0.35, 0.25, 0.15, 0.05, -0.05, -0.15]),
    (2009.7, [1.02, 0.85, 0.5, 0.3, 0.2, 0.1, 0.0]),
    (2010.15, [1.07, 0.85, 0.62, 0.4, 0.27, 0.17, 0.07]),
    (2010.6, [1.3, 1.02, 0.8, 0.57, 0.42, 0.32, 0.22, 0.12, 0.02]),
    (2011.6, [1.1, 1.0, 0.87, 0.45, 0.27, 0.17, 0.07]),
    (2011.85, [1.07, 1.0, 0.87, 0.7, 0.3, 0.2, 0.1, 0.0]),
    (2012.15, [1.07, 0.95, 0.78, 0.67, 0.57, 0.47, 0.37, 0.27, 0.17, 0.07]),
    (2012.4, [1.07, 0.9, 0.77, 0.67, 0.57, 0.47, 0.35, 0.22, 0.12, 0.02]),
    (2012.62, [1.05, 0.92, 0.8, 0.67, 0.55, 0.45, 0.32, 0.22, 0.12, 0.02]),
    (2012.9, [1.05, 0.9, 0.8, 0.65, 0.55, 0.42, 0.3, 0.2, 0.1, 0.0]),
    (2013.2, [1.15, 1.05, 0.92, 0.82, 0.7, 0.57, 0.45, 0.3, 0.15, 0.02]),
    (2013.55, [1.1, 1.02, 0.92, 0.75, 0.55, 0.35, 0.15]),
    (2013.85, [1.1, 1.0, 0.9, 0.72, 0.5, 0.3, 0.1]),
    (2016.35, [1.15, 1.05, 0.92]),
    (2016.65, [1.15, 1.05, 0.92]),
]

# loess fit (blue) and its standard-error band
CNN_SMOOTH_X = [2006.9, 2007.5, 2008, 2008.5, 2009, 2009.5, 2010, 2010.5, 2011, 2011.5, 2012,
                2012.5, 2013, 2013.5, 2014, 2014.5, 2015, 2015.5, 2016, 2016.5, 2017, 2017.35]
CNN_SMOOTH_Y = [-0.02, 0.1, 0.19, 0.28, 0.34, 0.39, 0.43, 0.45, 0.47, 0.47, 0.44,
                0.42, 0.43, 0.46, 0.49, 0.53, 0.56, 0.59, 0.61, 0.63, 0.65, 0.67]
CNN_SMOOTH_SE = [0.1, 0.05, 0.04, 0.03, 0.03, 0.03, 0.03, 0.03, 0.03, 0.03, 0.03,
                 0.03, 0.03, 0.03, 0.04, 0.04, 0.04, 0.04, 0.05, 0.05, 0.06, 0.08]

NBC_SMOOTH_X = [2006.85, 2007.5, 2008, 2008.5, 2009, 2009.5, 2010, 2010.5, 2011, 2011.5, 2012,
                2012.5, 2013, 2013.5, 2014, 2014.5, 2015, 2015.5, 2016, 2016.5, 2017, 2017.3]
NBC_SMOOTH_Y = [-0.06, 0.05, 0.11, 0.16, 0.2, 0.24, 0.27, 0.31, 0.32, 0.31, 0.29,
                0.29, 0.3, 0.32, 0.35, 0.39, 0.42, 0.45, 0.46, 0.43, 0.35, 0.26]
NBC_SMOOTH_SE = [0.06, 0.04, 0.03, 0.03, 0.03, 0.02, 0.02, 0.02, 0.02, 0.02, 0.02,
                 0.02, 0.02, 0.03, 0.03, 0.03, 0.03, 0.03, 0.03, 0.04, 0.04, 0.06]

CBS_SMOOTH_X = [2007.05, 2007.5, 2008, 2008.5, 2009, 2009.5, 2010, 2010.5, 2011, 2011.5, 2012,
                2012.5, 2013, 2013.5, 2014, 2014.5, 2015, 2015.5, 2016, 2016.5, 2017, 2017.3]
CBS_SMOOTH_Y = [-0.06, 0.02, 0.12, 0.21, 0.29, 0.34, 0.37, 0.39, 0.4, 0.41, 0.42,
                0.39, 0.4, 0.45, 0.51, 0.55, 0.59, 0.64, 0.68, 0.72, 0.76, 0.77]
CBS_SMOOTH_SE = [0.06, 0.04, 0.03, 0.03, 0.03, 0.03, 0.03, 0.03, 0.03, 0.03, 0.03,
                 0.03, 0.03, 0.03, 0.04, 0.04, 0.05, 0.06, 0.07, 0.08, 0.12, 0.16]

WSJ_SMOOTH_X = [2006.85, 2007.5, 2008, 2008.5, 2009, 2009.5, 2010, 2010.5, 2011, 2011.5, 2012,
                2012.5, 2013, 2013.5, 2014, 2014.5, 2015, 2015.5, 2016, 2016.5, 2017, 2017.3]
WSJ_SMOOTH_Y = [-0.09, 0.02, 0.11, 0.16, 0.2, 0.24, 0.28, 0.31, 0.32, 0.31, 0.28,
                0.27, 0.29, 0.31, 0.35, 0.38, 0.42, 0.46, 0.47, 0.43, 0.32, 0.25]
WSJ_SMOOTH_SE = [0.07, 0.04, 0.03, 0.03, 0.02, 0.02, 0.02, 0.02, 0.02, 0.02, 0.02,
                 0.02, 0.02, 0.03, 0.03, 0.03, 0.03, 0.03, 0.03, 0.04, 0.05, 0.06]

ABC_SMOOTH_X = [2006.92, 2007.5, 2008, 2008.5, 2009, 2009.3, 2009.5, 2010, 2010.5, 2011, 2011.5,
                2012, 2012.5, 2012.9, 2013.3, 2013.5, 2014, 2014.5, 2015, 2015.5, 2016, 2016.5,
                2017, 2017.3]
ABC_SMOOTH_Y = [-0.09, 0.01, 0.17, 0.38, 0.6, 0.7, 0.73, 0.77, 0.78, 0.78, 0.77,
                0.76, 0.71, 0.62, 0.68, 0.75, 0.82, 0.82, 0.82, 0.86, 0.93, 1.04,
                1.14, 1.19]
ABC_SMOOTH_SE = [0.07, 0.05, 0.04, 0.03, 0.03, 0.03, 0.03, 0.03, 0.03, 0.03, 0.03,
                 0.03, 0.03, 0.03, 0.03, 0.03, 0.04, 0.05, 0.06, 0.07, 0.08, 0.11,
                 0.16, 0.2]

NYT_SMOOTH_X = [2007.15, 2007.5, 2008, 2008.5, 2009, 2009.5, 2010, 2010.5, 2011, 2011.5, 2011.8,
                2012, 2012.5, 2012.85, 2013, 2013.5, 2014, 2014.5, 2015, 2015.5, 2015.8, 2016,
                2016.25, 2016.5, 2016.7, 2016.85]
NYT_SMOOTH_Y = [0.02, 0.06, 0.14, 0.25, 0.33, 0.37, 0.39, 0.41, 0.45, 0.49, 0.5,
                0.49, 0.44, 0.41, 0.41, 0.47, 0.55, 0.59, 0.53, 0.47, 0.48, 0.55,
                0.67, 0.82, 0.95, 1.07]
NYT_SMOOTH_SE = [0.27, 0.15, 0.07, 0.05, 0.05, 0.04, 0.04, 0.04, 0.04, 0.04, 0.04,
                 0.04, 0.04, 0.04, 0.04, 0.05, 0.05, 0.06, 0.08, 0.1, 0.1, 0.11,
                 0.13, 0.16, 0.22, 0.3]

COLUMNS = {
    "CNN": CNN_COLUMNS + CNN_COLUMNS_B,
    "NBC": NBC_COLUMNS + NBC_COLUMNS_B,
    "CBS": CBS_COLUMNS + CBS_COLUMNS_B,
    "WSJ": WSJ_COLUMNS + WSJ_COLUMNS_B,
    "ABC": ABC_COLUMNS + ABC_COLUMNS_B,
    "NYT": NYT_COLUMNS + NYT_COLUMNS_B,
}
SMOOTH = {
    "CNN": (CNN_SMOOTH_X, CNN_SMOOTH_Y, CNN_SMOOTH_SE),
    "NBC": (NBC_SMOOTH_X, NBC_SMOOTH_Y, NBC_SMOOTH_SE),
    "CBS": (CBS_SMOOTH_X, CBS_SMOOTH_Y, CBS_SMOOTH_SE),
    "WSJ": (WSJ_SMOOTH_X, WSJ_SMOOTH_Y, WSJ_SMOOTH_SE),
    "ABC": (ABC_SMOOTH_X, ABC_SMOOTH_Y, ABC_SMOOTH_SE),
    "NYT": (NYT_SMOOTH_X, NYT_SMOOTH_Y, NYT_SMOOTH_SE),
}

rows = [(outlet, year, value) for outlet in OUTLETS for year, values in COLUMNS[outlet] for value in values]
points = pd.DataFrame(rows, columns=["outlet", "year", "bias"])
fits = pd.concat(
    [pd.DataFrame({"outlet": o, "year": SMOOTH[o][0], "fit": SMOOTH[o][1], "se": SMOOTH[o][2]}) for o in OUTLETS],
    ignore_index=True,
)
fits["lo"] = fits["fit"] - fits["se"]
fits["hi"] = fits["fit"] + fits["se"]

sns.set_theme(style="white")
plt.rcParams["font.family"] = ["Liberation Sans", "DejaVu Sans"]

W, H = 1330, 663
fig = plt.figure(figsize=(W / 100, H / 100), dpi=100)
fig.patch.set_facecolor("white")

# pixel layout of the 3 x 2 facet grid
col_left = [74, 497, 918]
panel_w = 409
row_top = [90, 371]
row_bottom = [316, 596]
strip_top = [50, 330]

for i, outlet in enumerate(OUTLETS):
    r, c = divmod(i, 3)
    left = col_left[c]
    ax = fig.add_axes([left / W, 1 - row_bottom[r] / H, panel_w / W, (row_bottom[r] - row_top[r]) / H])
    ax.set_facecolor("white")
    ax.set_xlim(2006.31, 2017.83)
    ax.set_ylim(-1.33, 2.075)
    ax.set_xticks([2008, 2010, 2012, 2014, 2016])
    ax.set_xticks([2007, 2009, 2011, 2013, 2015, 2017], minor=True)
    ax.set_yticks([-1, 0, 1, 2])
    ax.set_yticks([-0.5, 0.5, 1.5], minor=True)
    ax.grid(which="major", color="#EBEBEB", linewidth=1.4)
    ax.grid(which="minor", color="#EBEBEB", linewidth=0.7)
    ax.set_axisbelow(True)
    ax.axhline(0, color="#A9A9A9", linewidth=3.6, dashes=(5.8, 5.8), zorder=1.5)

    sub = points[points["outlet"] == outlet]
    sns.scatterplot(data=sub, x="year", y="bias", color="black", s=9.5, linewidth=0,
                    edgecolor="none", legend=False, ax=ax, zorder=2)
    fit = fits[fits["outlet"] == outlet]
    ax.fill_between(fit["year"], fit["lo"], fit["hi"], color="#999999", alpha=0.4, linewidth=0, zorder=3)
    sns.lineplot(data=fit, x="year", y="fit", color="#3366FF", linewidth=2.8, errorbar=None, ax=ax, zorder=4)

    ax.set_xlabel("")
    ax.set_ylabel("")
    for sp in ax.spines.values():
        sp.set_color("#333333")
        sp.set_linewidth(1.1)
    ax.tick_params(which="minor", length=0)
    ax.tick_params(which="major", length=4.3, width=0.9, color="#333333", labelcolor="#4D4D4D",
                   labelsize=15, pad=3.5)
    if r == 0:
        ax.tick_params(axis="x", which="major", length=0, labelbottom=False)
    if c != 0:
        ax.tick_params(axis="y", which="major", length=0, labelleft=False)
    else:
        ax.set_yticklabels(["-1", "0", "1", "2"])

    strip = fig.add_axes([left / W, 1 - row_top[r] / H, panel_w / W, (row_top[r] - strip_top[r]) / H])
    strip.set_facecolor("#D9D9D9")
    strip.set_xticks([])
    strip.set_yticks([])
    for sp in strip.spines.values():
        sp.set_color("#333333")
        sp.set_linewidth(1.1)
    strip.text(0.5, 0.5, outlet, ha="center", va="center", fontsize=14.5, color="#1A1A1A",
               transform=strip.transAxes)

fig.text(75 / W, 1 - 32 / H, "Questions about Barack Obama", fontsize=22.3, color="black",
         ha="left", va="baseline")
fig.text(22 / W, 1 - 343 / H, "Question Bias Relative to 2007 Baseline", fontsize=19,
         rotation=90, ha="center", va="center", color="black")
fig.text(700 / W, 1 - 648 / H, "Year", fontsize=19, ha="center", va="center", color="black")

fig.savefig("out.png", dpi=100)
